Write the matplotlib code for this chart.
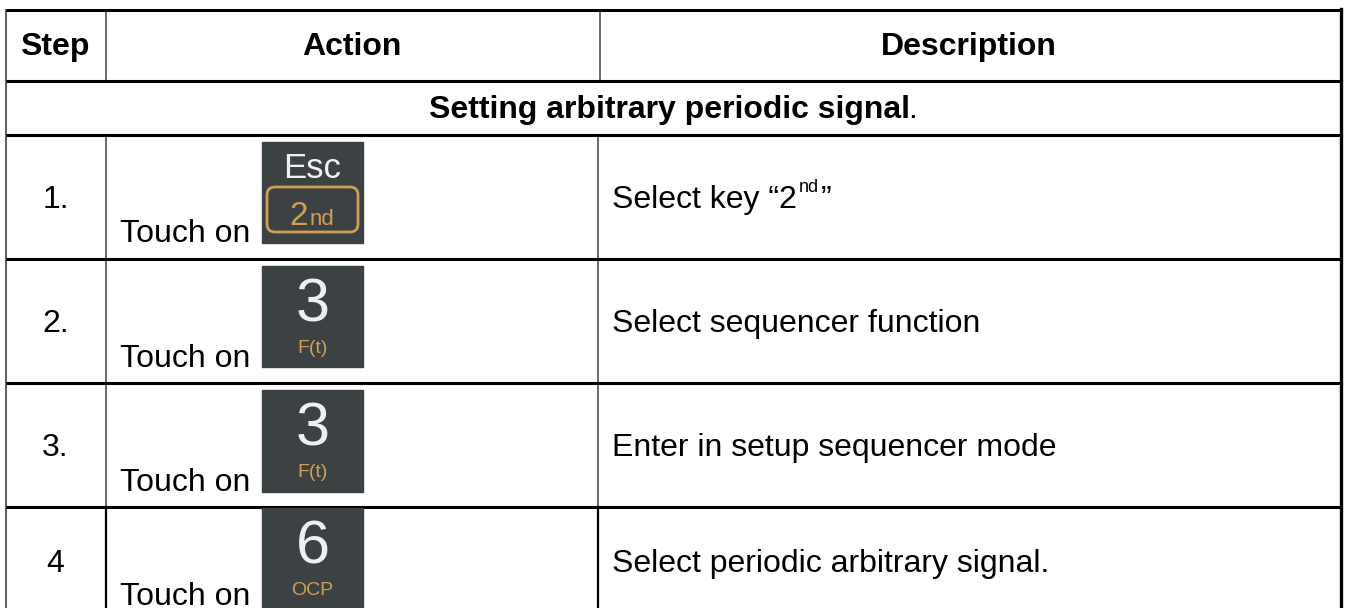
import matplotlib
matplotlib.use("Agg")
import matplotlib.pyplot as plt
from matplotlib.patches import Rectangle, FancyBboxPatch

plt.rcParams['font.family'] = ['Liberation Sans', 'DejaVu Sans']

headers = ["Step", "Action", "Description"]
section = "Setting arbitrary periodic signal"
steps = ["1.", "2.", "3.", "4"]
action_text = "Touch on"
key_top = ["Esc", "3", "3", "6"]
key_bottom = ["2nd", "F(t)", "F(t)", "OCP"]
descriptions = ["Select key “2", "Select sequencer function", "Enter in setup sequencer mode", "Select periodic arbitrary signal."]

W, H = 1346, 608
row_y = [10, 80.5, 135, 259, 383, 507]
key_y = [(142, 243), (266, 367), (390, 492), (508, 607)]
baselines = [208, 332, 456, 572]
touch_base = [242, 367, 491, 605]
key_x = (262, 363)
col1, col2 = 105.5, 597.5
left, right = 6, 1341

DARK = "#3c4144"
GOLD = "#cf9f55"
LIGHT = "#eef0f0"

fig = plt.figure(figsize=(W / 100, H / 100), dpi=100)
ax = fig.add_axes([0, 0, 1, 1])
ax.set_xlim(0, W)
ax.set_ylim(H, 0)
ax.axis("off")

# table lines
for y in row_y:
    ax.plot([left, right], [y, y], color="black", lw=2.2, solid_capstyle="butt", zorder=3)
ax.plot([left, left], [row_y[0], H], color="#333333", lw=1.1, zorder=2)
ax.plot([right, right], [row_y[0] - 1, H], color="black", lw=2.4, zorder=3)
ax.plot([col1, col1], [row_y[0], row_y[1]], color="#444444", lw=1.1)
ax.plot([col2 + 2, col2 + 2], [row_y[0], row_y[1]], color="#444444", lw=1.1)
ax.plot([col1, col1], [row_y[2], row_y[5]], color="#444444", lw=1.1)
ax.plot([col2, col2], [row_y[2], row_y[5]], color="#444444", lw=1.1)
ax.plot([col1, col1], [row_y[5], H], color="black", lw=1.6)
ax.plot([col2, col2], [row_y[5], H], color="black", lw=1.6)

# header
FS = 23
header_x = [55, 352, 969]
for x, t in zip(header_x, headers):
    ax.text(x, 55, t, ha="center", va="baseline", fontsize=FS, fontweight="bold", color="black")
ax.text(429, 118, section, ha="left", va="baseline", fontsize=FS, fontweight="bold", color="black")
ax.text(908, 118, ".", ha="left", va="baseline", fontsize=FS, color="black")

for i in range(4):
    top, bottom = key_y[i]
    ax.text(55.5, baselines[i], steps[i], ha="center", va="baseline", fontsize=FS, color="black")
    ax.text(120.5, touch_base[i], action_text, ha="left", va="baseline", fontsize=FS, color="black")
    ax.add_patch(Rectangle((key_x[0], top), key_x[1] - key_x[0], bottom - top, color=DARK, zorder=4))
    cx = sum(key_x) / 2
    if i == 0:
        ax.text(cx, 178, key_top[i], ha="center", va="baseline", fontsize=25, color=LIGHT, zorder=5)
        ax.add_patch(FancyBboxPatch((267, 187), 91, 45, boxstyle="round,pad=0,rounding_size=8",
                                    fc="none", ec=GOLD, lw=2, zorder=5))
        ax.text(299, 225, "2", ha="center", va="baseline", fontsize=24, color=GOLD, zorder=6)
        ax.text(322, 225, "nd", ha="center", va="baseline", fontsize=16, color=GOLD, zorder=6)
    else:
        ax.text(cx, top + 56, key_top[i], ha="center", va="baseline", fontsize=44, color=LIGHT, zorder=5)
        ax.text(cx, top + 87, key_bottom[i], ha="center", va="baseline", fontsize=14, color=GOLD, zorder=5)
    ax.text(612, baselines[i], descriptions[i], ha="left", va="baseline", fontsize=FS, color="black")

# superscript and closing quote of the first description
ax.text(799, 192, "nd", ha="left", va="baseline", fontsize=13, color="black")
ax.text(820.5, 208, "”", ha="left", va="baseline", fontsize=FS, color="black")

fig.savefig("out.png", dpi=100)
